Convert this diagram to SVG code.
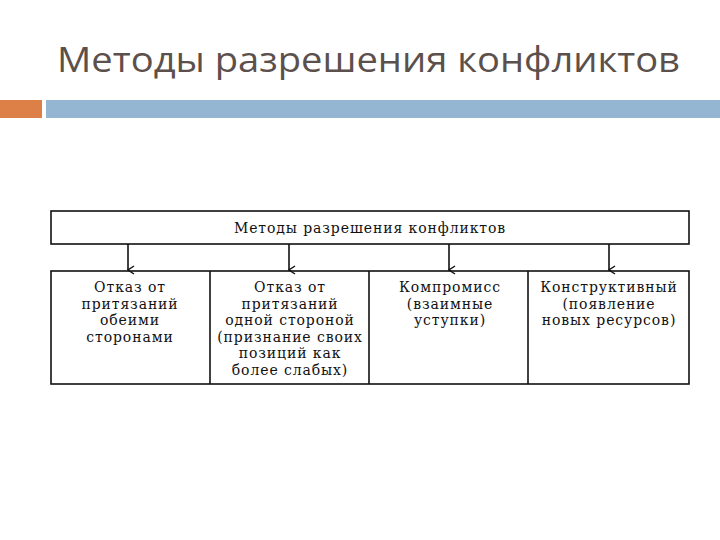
<svg xmlns="http://www.w3.org/2000/svg" width="720" height="540" viewBox="0 0 720 540">
<style>
.t{font-family:"DejaVu Serif","Liberation Serif",serif;font-size:14px;letter-spacing:0.9px;fill:#111;text-anchor:middle}
.box{fill:#fff;stroke:#111;stroke-width:1.6}
.ln{stroke:#111;stroke-width:1.6;fill:none}
</style>
<defs>
<marker id="arr" markerWidth="10" markerHeight="10" refX="5" refY="9" orient="auto" markerUnits="userSpaceOnUse" viewBox="0 0 10 10">
<path d="M1,3 L5,9 L9,3" fill="none" stroke="#111" stroke-width="1.4"/>
</marker>
</defs>
<rect width="720" height="540" fill="#fff"/>
<text x="57" y="72" font-family="'Open Sans','Liberation Sans',sans-serif" font-size="35" fill="#5b504b" textLength="623" lengthAdjust="spacingAndGlyphs">Методы разрешения конфликтов</text>
<rect x="0" y="100" width="42" height="18" fill="#dd8047"/>
<rect x="46" y="100" width="674" height="18" fill="#94b6d2"/>
<g id="root">
<rect class="box" x="51" y="211" width="638" height="33"/>
<text class="t" x="370" y="233">Методы разрешения конфликтов</text>
</g>
<g id="row">
<rect class="box" x="51" y="271" width="638" height="113"/>
</g>
<g id="n1">
<text class="t" x="130" y="292">Отказ от</text>
<text class="t" x="130" y="308.5">притязаний</text>
<text class="t" x="130" y="325">обеими</text>
<text class="t" x="130" y="341.5">сторонами</text>
</g>
<g id="n2">
<line class="ln" x1="210" y1="271" x2="210" y2="384"/>
<text class="t" x="290" y="292">Отказ от</text>
<text class="t" x="290" y="308.5">притязаний</text>
<text class="t" x="290" y="325">одной стороной</text>
<text class="t" x="290" y="341.5">(признание своих</text>
<text class="t" x="290" y="358">позиций как</text>
<text class="t" x="290" y="374.5">более слабых)</text>
</g>
<g id="n3">
<line class="ln" x1="369" y1="271" x2="369" y2="384"/>
<text class="t" x="450" y="292">Компромисс</text>
<text class="t" x="450" y="308.5">(взаимные</text>
<text class="t" x="450" y="325">уступки)</text>
</g>
<g id="n4">
<line class="ln" x1="528" y1="271" x2="528" y2="384"/>
<text class="t" x="609" y="292">Конструктивный</text>
<text class="t" x="609" y="308.5">(появление</text>
<text class="t" x="609" y="325">новых ресурсов)</text>
</g>
<g id="connectors">
<line class="ln" x1="128" y1="244" x2="128" y2="270" marker-end="url(#arr)"/>
<line class="ln" x1="289" y1="244" x2="289" y2="270" marker-end="url(#arr)"/>
<line class="ln" x1="449" y1="244" x2="449" y2="270" marker-end="url(#arr)"/>
<line class="ln" x1="609" y1="244" x2="609" y2="270" marker-end="url(#arr)"/>
</g>
</svg>
